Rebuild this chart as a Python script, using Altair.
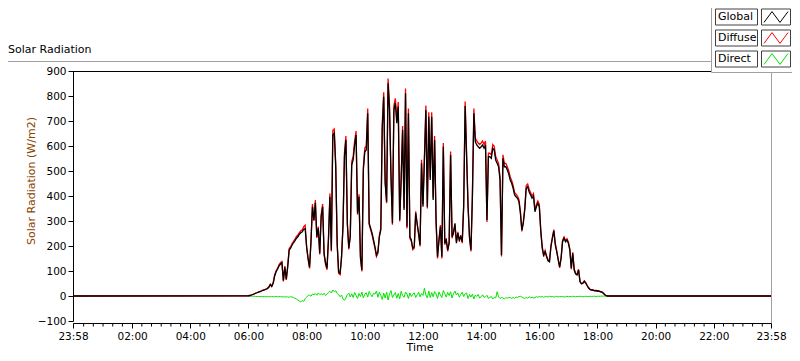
import altair as alt
import pandas as pd

# ---- data ----
START_MIN = 360   # 06:00, first daylight sample
STEP_MIN = 3      # sample spacing in minutes

global_vals = [
    1, 2, 4, 6, 8, 11, 13, 16, 17, 20,
    23, 24, 27, 29, 35, 45, 38, 51, 80, 97,
    107, 120, 128, 133, 62, 115, 67, 117, 184, 191,
    204, 213, 221, 231, 237, 247, 253, 257, 267, 269,
    197, 151, 115, 217, 357, 304, 373, 237, 271, 171,
    317, 357, 171, 133, 111, 224, 397, 184, 644, 651,
    517, 211, 97, 91, 157, 277, 557, 624, 291, 191,
    237, 524, 544, 604, 644, 331, 397, 157, 104, 504,
    577, 584, 731, 291, 271, 251, 224, 197, 164, 177,
    237, 264, 671, 797, 451, 377, 851, 744, 477, 291,
    744, 771, 691, 757, 304, 464, 664, 344, 811, 277,
    731, 237, 224, 191, 197, 331, 291, 251, 204, 531,
    357, 544, 744, 357, 717, 464, 717, 384, 624, 304,
    157, 221, 277, 157, 597, 211, 224, 184, 211, 564,
    237, 251, 291, 211, 251, 224, 237, 217, 357, 760,
    557, 357, 237, 184, 397, 731, 617, 604, 597, 591,
    597, 604, 591, 604, 304, 557, 557, 551, 591, 584,
    544, 531, 517, 464, 164, 551, 517, 517, 504, 488,
    464, 451, 431, 404, 397, 391, 377, 331, 264, 291,
    344, 431, 437, 417, 404, 391, 400, 337, 357, 371,
    357, 264, 197, 164, 177, 157, 141, 137, 197, 231,
    261, 204, 177, 144, 117, 151, 217, 231, 217, 224,
    211, 184, 111, 171, 104, 88, 84, 104, 57, 48,
    51, 59, 51, 40, 31, 25, 24, 23, 21, 21,
    20, 19, 17, 16, 11, 5, 1, 0,
]

diffuse_vals = [
    1, 2, 4, 6, 9, 12, 14, 17, 18, 21,
    24, 25, 28, 31, 37, 47, 40, 53, 84, 101,
    111, 125, 133, 138, 58, 120, 64, 122, 190, 197,
    210, 219, 228, 238, 244, 254, 261, 265, 277, 283,
    193, 147, 110, 223, 368, 300, 384, 232, 278, 166,
    326, 368, 165, 127, 105, 230, 410, 178, 662, 668,
    530, 205, 90, 85, 152, 284, 572, 640, 285, 186,
    243, 538, 558, 620, 660, 325, 407, 150, 98, 517,
    592, 599, 750, 285, 266, 245, 218, 190, 158, 171,
    242, 270, 690, 815, 462, 371, 870, 762, 488, 285,
    762, 790, 708, 776, 298, 475, 680, 352, 830, 270,
    750, 231, 218, 185, 191, 339, 285, 245, 198, 545,
    366, 558, 762, 350, 735, 475, 735, 393, 640, 297,
    150, 227, 284, 150, 612, 205, 230, 178, 217, 578,
    231, 258, 285, 217, 257, 218, 243, 211, 366, 778,
    572, 366, 231, 178, 407, 750, 632, 620, 612, 606,
    612, 620, 606, 620, 296, 571, 571, 565, 606, 599,
    558, 544, 530, 476, 158, 565, 530, 530, 517, 500,
    476, 462, 442, 414, 407, 400, 386, 339, 258, 297,
    352, 442, 448, 427, 414, 400, 410, 345, 366, 380,
    366, 257, 190, 158, 182, 161, 145, 141, 202, 236,
    266, 209, 181, 148, 112, 155, 222, 236, 222, 229,
    216, 188, 107, 175, 107, 91, 87, 107, 59, 50,
    53, 61, 53, 42, 33, 26, 25, 24, 22, 22,
    21, 20, 18, 17, 12, 6, 1, 0,
]

direct_vals = [
    0, 0, -1, -1, -1, -2, -2, -2, -2, -2,
    -3, -2, -3, -2, -3, -3, -2, -3, -3, -2,
    -3, -3, -2, -4, -3, -4, -3, -4, -5, -3,
    -4, -6, -9, -12, -16, -20, -24, -18, -22, -10,
    -5, 2, 4, -1, 8, 5, 10, 3, 12, 6,
    9, 4, 11, 2, 7, 14, 19, 12, 24, 17,
    21, 10, 6, -3, 4, -12, -17, -8, 6, 12,
    -4, 9, -6, 14, 2, -10, 10, -2, 16, -8,
    7, 13, -4, 18, 6, -3, 11, 8, 20, -5,
    15, 3, -14, 12, -8, 16, -16, 9, 22, -6,
    4, 14, -9, 10, -12, 19, 2, -5, 16, 8,
    -10, 12, -2, 7, 13, -6, 5, 15, -3, 10,
    2, 31, 4, -8, 20, -6, 14, -3, 18, 8,
    -10, 16, 4, -6, 22, 9, -4, 14, 2, 17,
    -8, 10, 20, 4, 12, -5, 6, 15, -2, 9,
    12, -10, 6, -4, 8, -12, 4, -2, 6, -8,
    -3, 5, -5, -3, 3, -10, -6, -2, -12, -5,
    -8, 17, -4, -10, -6, -8, -12, -6, -9, -5,
    -7, -9, -6, -10, -4, -6, -2, -1, -4, -8,
    -10, -6, -9, -3, -7, -5, -8, -6, -3, -5,
    -2, -4, -2, -5, -3, -2, -4, -1, -3, -2,
    -4, -3, -1, -4, -2, -3, -2, -4, -3, -1,
    -3, -2, -3, -1, -2, -3, -2, -2, -1, -2,
    -3, -2, -1, -2, -2, -1, -2, -1, -1, -2,
    -1, -1, -1, 0, -1, 0, -1, 0, 0, 0,
]

series_names = ["Global", "Diffuse", "Direct"]
series_colors = ["#000000", "#ff0000", "#00e600"]

x_tick_labels = ["23:58", "02:00", "04:00", "06:00", "08:00", "10:00", "12:00",
                 "14:00", "16:00", "18:00", "20:00", "22:00", "23:58"]
x_tick_pos = [-2, 120, 240, 360, 480, 600, 720, 840, 960, 1080, 1200, 1320, 1438]
x_minor_pos = [m for m in range(0, 1440, 20) if m % 120 != 0]
y_ticks = [-100, 0, 100, 200, 300, 400, 500, 600, 700, 800, 900]

DAY_START, DAY_END = -2, 1438
FONT = "DejaVu Sans"
W, H = 698, 250


def frame(vals, night):
    minutes = [START_MIN + STEP_MIN * i for i in range(len(vals))]
    values = list(vals)
    if night:
        minutes = [DAY_START] + minutes + [DAY_END]
        values = [0] + values + [0]
    return pd.DataFrame({"minute": minutes, "value": values})


xscale = alt.Scale(domain=[DAY_START, DAY_END], nice=False, zero=False)
yscale = alt.Scale(domain=[-100, 900], nice=False, zero=False)

label_expr = "[" + ",".join("'%s'" % s for s in x_tick_labels) + "][round((datum.value + 2) / 120)]"

x_axis = alt.Axis(values=x_tick_pos, labelExpr=label_expr, title=None, grid=False,
                  offset=2, tickSize=5, labelPadding=3, labelFlush=False,
                  labelOverlap=False, domainColor="#000", tickColor="#000",
                  labelColor="#000", labelFont=FONT, labelFontSize=10.5)
y_axis = alt.Axis(values=y_ticks, title=None, grid=False, tickSize=5, labelPadding=2,
                  domainColor="#000", tickColor="#000", labelColor="#000",
                  labelFont=FONT, labelFontSize=10.5)


def line_layer(vals, night, color, width=1.0):
    return alt.Chart(frame(vals, night)).mark_line(
        color=color, strokeWidth=width, interpolate="linear"
    ).encode(
        x=alt.X("minute:Q", scale=xscale, axis=x_axis),
        y=alt.Y("value:Q", scale=yscale, axis=y_axis),
    )


one = alt.Data(values=[{}])

direct = line_layer(direct_vals, False, series_colors[2])
diffuse = line_layer(diffuse_vals, True, series_colors[1], 1.3)
glob = line_layer(global_vals, True, series_colors[0], 1.3)

minor = alt.Chart(pd.DataFrame({"minute": x_minor_pos})).mark_rule(
    color="#000", strokeWidth=1
).encode(
    x=alt.X("minute:Q", scale=xscale, axis=x_axis),
    y=alt.value(H + 2), y2=alt.value(H + 5.5),
)

top_border = alt.Chart(one).mark_rule(color="#000", strokeWidth=1).encode(
    x=alt.value(0), x2=alt.value(W), y=alt.value(0.5))
right_border = alt.Chart(one).mark_rule(color="#a0a0a0", strokeWidth=1).encode(
    x=alt.value(W + 0.5), y=alt.value(0), y2=alt.value(H + 2))
outer_top = alt.Chart(one).mark_rule(color="#a0a0a0", strokeWidth=1).encode(
    x=alt.value(-65), x2=alt.value(640), y=alt.value(-9.5))

title = alt.Chart(one).mark_text(
    text="Solar Radiation", align="left", baseline="middle", font=FONT, fontSize=11, color="#000"
).encode(x=alt.value(-65), y=alt.value(-21))
ytitle = alt.Chart(one).mark_text(
    text="Solar Radiation (W/m2)", align="center", baseline="middle", angle=270,
    font=FONT, fontSize=11, color="#8a4500"
).encode(x=alt.value(-41), y=alt.value(110))
xtitle = alt.Chart(one).mark_text(
    text="Time", align="center", baseline="middle", font=FONT, fontSize=11, color="#000"
).encode(x=alt.value(347), y=alt.value(277))

legend_bg = alt.Chart(one).mark_rect(fill="#ffffff", stroke="#a0a0a0", strokeWidth=1).encode(
    x=alt.value(638.5), x2=alt.value(730), y=alt.value(-70), y2=alt.value(1.5))

legend_layers = [legend_bg]
row_y = [-54, -33, -12]
for name, color, cy in zip(series_names, series_colors, row_y):
    legend_layers.append(alt.Chart(one).mark_rect(fill="#ffffff", stroke="#404040", strokeWidth=1).encode(
        x=alt.value(642.5), x2=alt.value(684.5), y=alt.value(cy - 8), y2=alt.value(cy + 8)))
    legend_layers.append(alt.Chart(one).mark_rect(fill="#ffffff", stroke="#404040", strokeWidth=1).encode(
        x=alt.value(688.5), x2=alt.value(717.5), y=alt.value(cy - 8), y2=alt.value(cy + 8)))
    legend_layers.append(alt.Chart(one).mark_text(
        text=name, align="left", baseline="middle", font=FONT, fontSize=11, color="#000"
    ).encode(x=alt.value(645), y=alt.value(cy)))
    legend_layers.append(alt.Chart(one).mark_point(
        shape="M-1,0.45L-0.33,-0.45L0.33,0.45L1,-0.45", filled=False, size=576,
        strokeWidth=1, color=color, opacity=1
    ).encode(x=alt.value(703), y=alt.value(cy)))

chart = alt.layer(
    direct, diffuse, glob, minor, top_border, right_border, outer_top,
    title, ytitle, xtitle, *legend_layers
).properties(
    width=W, height=H,
    autosize=alt.AutoSizeParams(type="none"),
    padding={"left": 65, "top": 63, "right": 21, "bottom": 32},
    background="#ffffff",
).configure_view(stroke=None)

chart.save("out.html", embed_options={"renderer": "svg", "actions": False})
